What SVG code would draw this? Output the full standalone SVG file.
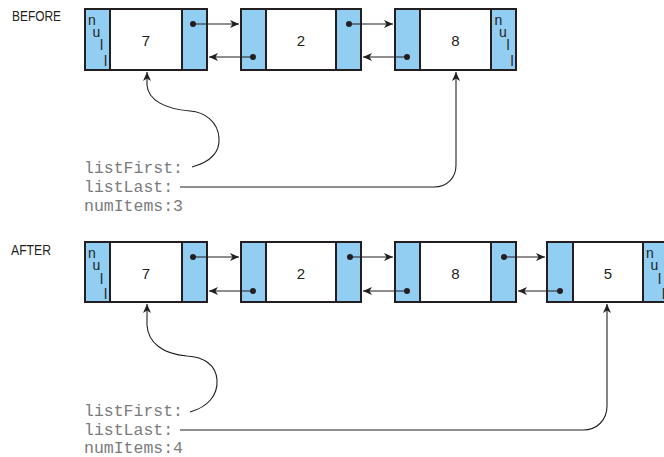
<svg xmlns="http://www.w3.org/2000/svg" width="664" height="457" viewBox="0 0 664 457">
<style>
.bg{fill:#ffffff}
.ptr{fill:#92cdf2;stroke:#231f20;stroke-width:2}
.dat{fill:#ffffff;stroke:#231f20;stroke-width:2}
.num{font-family:"Liberation Sans",Arial,sans-serif;font-size:15px;fill:#231f20;text-anchor:middle}
.nl{font-family:"Liberation Sans",Arial,sans-serif;font-size:14px;fill:#231f20}
.hdr{font-family:"Liberation Sans",Arial,sans-serif;font-size:15px;fill:#231f20}
.code{font-family:"Liberation Mono","Courier New",monospace;font-size:16.5px;fill:#7a7b7e}
.link{fill:none;stroke:#231f20;stroke-width:1.1}
.dot{fill:#231f20}
</style>
<defs>
<marker id="ah" markerUnits="userSpaceOnUse" markerWidth="10" markerHeight="8" refX="9" refY="4" orient="auto">
<path d="M0,0 L9,4 L0,8 L2.5,4 Z" fill="#231f20"/>
</marker>
</defs>
<rect class="bg" x="0" y="0" width="664" height="457"/>
<text class="hdr" x="12" y="21" textLength="49" lengthAdjust="spacingAndGlyphs">BEFORE</text>
<text class="hdr" x="11" y="255" textLength="40" lengthAdjust="spacingAndGlyphs">AFTER</text>

<g id="before-node1">
<rect class="ptr" x="85" y="9" width="25" height="61"/>
<rect class="dat" x="110" y="9" width="72" height="61"/>
<rect class="ptr" x="182" y="9" width="25" height="61"/>
<text class="nl" x="88" y="25">n</text><text class="nl" x="92.5" y="37">u</text><text class="nl" x="100" y="49.5">l</text><text class="nl" x="104" y="65.5">l</text>
<text class="num" x="146" y="46">7</text>
</g>
<g id="before-node2">
<rect class="ptr" x="241" y="9" width="25" height="61"/>
<rect class="dat" x="266" y="9" width="70" height="61"/>
<rect class="ptr" x="336" y="9" width="25" height="61"/>
<text class="num" x="301" y="46">2</text>
</g>
<g id="before-node3">
<rect class="ptr" x="395" y="9" width="25" height="61"/>
<rect class="dat" x="420" y="9" width="71" height="61"/>
<rect class="ptr" x="491" y="9" width="25" height="61"/>
<text class="num" x="455.5" y="46">8</text>
<text class="nl" x="494.5" y="25">n</text><text class="nl" x="499" y="37">u</text><text class="nl" x="506.5" y="49.5">l</text><text class="nl" x="510.5" y="65.5">l</text>
</g>
<g id="before-vars">
<text class="code" x="84" y="173">listFirst:</text>
<text class="code" x="84" y="192">listLast:</text>
<text class="code" x="84" y="211">numItems:3</text>
</g>

<g id="after-node1">
<rect class="ptr" x="85" y="242" width="25" height="60"/>
<rect class="dat" x="110" y="242" width="72" height="60"/>
<rect class="ptr" x="182" y="242" width="25" height="60"/>
<text class="nl" x="88" y="258">n</text><text class="nl" x="92.5" y="270">u</text><text class="nl" x="100" y="284">l</text><text class="nl" x="104" y="298.5">l</text>
<text class="num" x="146" y="279">7</text>
</g>
<g id="after-node2">
<rect class="ptr" x="241" y="242" width="25" height="60"/>
<rect class="dat" x="266" y="242" width="70" height="60"/>
<rect class="ptr" x="336" y="242" width="25" height="60"/>
<text class="num" x="301" y="279">2</text>
</g>
<g id="after-node3">
<rect class="ptr" x="395" y="242" width="25" height="60"/>
<rect class="dat" x="420" y="242" width="71" height="60"/>
<rect class="ptr" x="491" y="242" width="25" height="60"/>
<text class="num" x="455.5" y="279">8</text>
</g>
<g id="after-node4">
<rect class="ptr" x="547" y="242" width="26" height="60"/>
<rect class="dat" x="573" y="242" width="70" height="60"/>
<rect class="ptr" x="643" y="242" width="25" height="60"/>
<text class="num" x="608" y="279">5</text>
<text class="nl" x="646" y="258">n</text><text class="nl" x="650.5" y="270">u</text><text class="nl" x="658" y="284">l</text><text class="nl" x="662" y="298.5">l</text>
</g>
<g id="after-vars">
<text class="code" x="84" y="416">listFirst:</text>
<text class="code" x="84" y="434.5">listLast:</text>
<text class="code" x="84" y="453">numItems:4</text>
</g>

<g id="connectors">
<circle class="dot" cx="193" cy="24" r="3"/>
<line class="link" x1="193" y1="24" x2="239" y2="24" marker-end="url(#ah)"/>
<circle class="dot" cx="349" cy="24" r="3"/>
<line class="link" x1="349" y1="24" x2="393" y2="24" marker-end="url(#ah)"/>
<circle class="dot" cx="253" cy="57" r="3"/>
<line class="link" x1="253" y1="57" x2="209" y2="57" marker-end="url(#ah)"/>
<circle class="dot" cx="407" cy="57" r="3"/>
<line class="link" x1="407" y1="57" x2="363" y2="57" marker-end="url(#ah)"/>
<path class="link" d="M192,167 C210,162 220,152 219,138 C218,122 205,112 190,111 C165,109 148,100 147,85 L147,72" marker-end="url(#ah)"/>
<path class="link" d="M180,187 H434 C447,187 456,178 456,165 V72" marker-end="url(#ah)"/>

<circle class="dot" cx="193" cy="257" r="3"/>
<line class="link" x1="193" y1="257" x2="239" y2="257" marker-end="url(#ah)"/>
<circle class="dot" cx="350" cy="257" r="3"/>
<line class="link" x1="350" y1="257" x2="393" y2="257" marker-end="url(#ah)"/>
<circle class="dot" cx="504" cy="257" r="3"/>
<line class="link" x1="504" y1="257" x2="545" y2="257" marker-end="url(#ah)"/>
<circle class="dot" cx="253" cy="291" r="3"/>
<line class="link" x1="253" y1="291" x2="209" y2="291" marker-end="url(#ah)"/>
<circle class="dot" cx="407" cy="291" r="3"/>
<line class="link" x1="407" y1="291" x2="363" y2="291" marker-end="url(#ah)"/>
<circle class="dot" cx="560" cy="291" r="3"/>
<line class="link" x1="560" y1="291" x2="518" y2="291" marker-end="url(#ah)"/>
<path class="link" d="M190,412 C208,407 218,395 217,380 C216,365 204,357 187,356 C163,354 148,343 147,325 L147,304" marker-end="url(#ah)"/>
<path class="link" d="M180,430 H583 C597,430 607,420 607,406 V304" marker-end="url(#ah)"/>
</g>
</svg>
